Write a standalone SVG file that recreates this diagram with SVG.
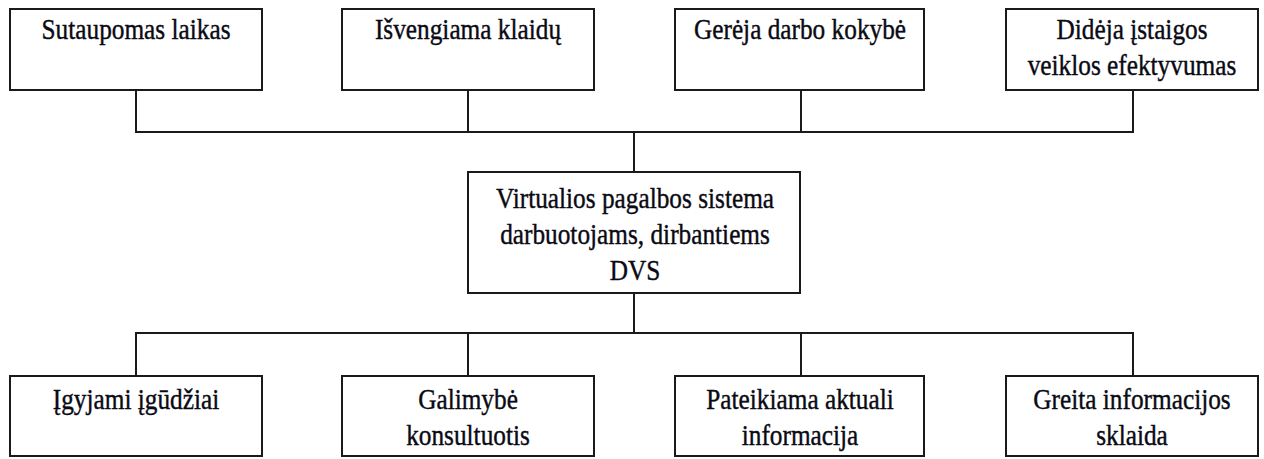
<svg xmlns="http://www.w3.org/2000/svg" width="1264" height="459" viewBox="0 0 1264 459">
<style>
.box{fill:#fff;stroke:#1a1a1a;stroke-width:2}
.ln{fill:none;stroke:#1a1a1a;stroke-width:2}
.t{font-family:'Liberation Serif','DejaVu Serif',serif;font-size:25.3px;fill:#0a0a14;stroke:#0a0a14;stroke-width:0.35;text-anchor:middle}
</style>
<rect width="1264" height="459" fill="#fff"/>
<g id="connectors">
<path class="ln" d="M136 90V132H1133V90M468 90V132M801 90V132M634 132V172"/>
<path class="ln" d="M634 293V333M136 376V333H1133V376M468 333V376M801 333V376"/>
</g>
<g id="n1"><rect class="box" x="10" y="9" width="252" height="81"/><text class="t" transform="translate(136,39) scale(1,1.2)">Sutaupomas laikas</text></g>
<g id="n2"><rect class="box" x="342" y="9" width="252" height="81"/><text class="t" transform="translate(468,39) scale(1,1.2)">Išvengiama klaidų</text></g>
<g id="n3"><rect class="box" x="675" y="9" width="249" height="81"/><text class="t" transform="translate(800,39) scale(1,1.2)">Gerėja darbo kokybė</text></g>
<g id="n4"><rect class="box" x="1006" y="9" width="252" height="81"/><text class="t" transform="translate(1132,39) scale(1,1.2)"><tspan x="0" y="0">Didėja įstaigos</tspan><tspan x="0" y="30">veiklos efektyvumas</tspan></text></g>
<g id="center"><rect class="box" x="468" y="172" width="332" height="121"/><text class="t" transform="translate(635,208) scale(1,1.2)"><tspan x="0" y="0">Virtualios pagalbos sistema</tspan><tspan x="0" y="30">darbuotojams, dirbantiems</tspan><tspan x="0" y="60">DVS</tspan></text></g>
<g id="b1"><rect class="box" x="10" y="376" width="252" height="80"/><text class="t" transform="translate(136,409) scale(1,1.2)">Įgyjami įgūdžiai</text></g>
<g id="b2"><rect class="box" x="342" y="376" width="252" height="80"/><text class="t" transform="translate(468,409) scale(1,1.2)"><tspan x="0" y="0">Galimybė</tspan><tspan x="0" y="30">konsultuotis</tspan></text></g>
<g id="b3"><rect class="box" x="675" y="376" width="249" height="80"/><text class="t" transform="translate(800,409) scale(1,1.2)"><tspan x="0" y="0">Pateikiama aktuali</tspan><tspan x="0" y="30">informacija</tspan></text></g>
<g id="b4"><rect class="box" x="1006" y="376" width="252" height="80"/><text class="t" transform="translate(1132,409) scale(1,1.2)"><tspan x="0" y="0">Greita informacijos</tspan><tspan x="0" y="30">sklaida</tspan></text></g>
</svg>
